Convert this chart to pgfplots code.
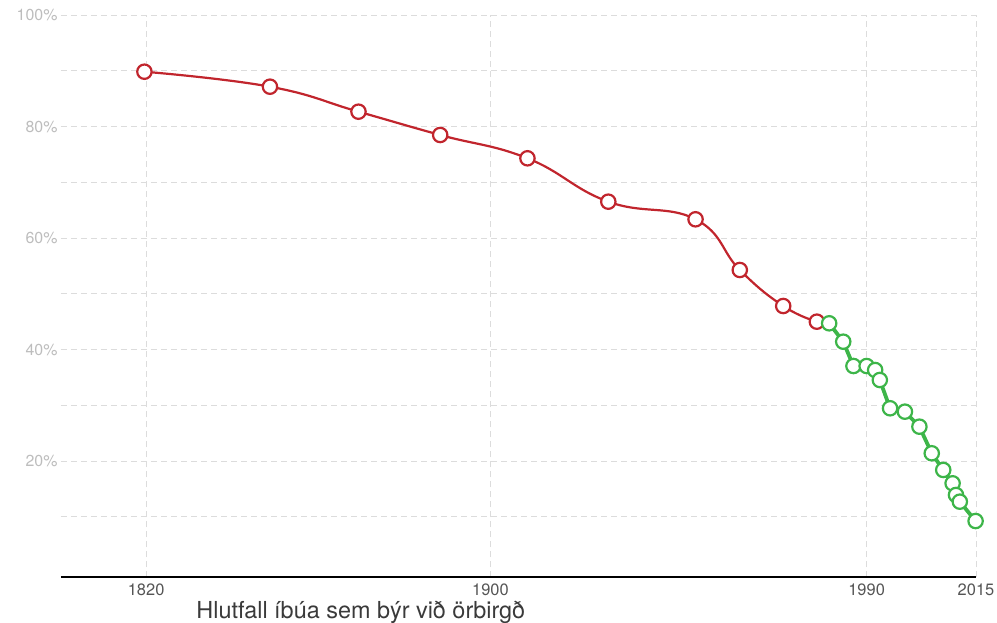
\documentclass[border=0pt]{standalone}
\usepackage{pgfplots}
\pgfplotsset{compat=1.18}
\usepackage{fontspec}
\setmainfont{TeX Gyre Heros}
\definecolor{owidred}{HTML}{C1252D}
\definecolor{owidgreen}{HTML}{3DB549}
\definecolor{gridgray}{HTML}{DCDCDC}
\definecolor{ylab}{HTML}{BDBDBD}
\definecolor{xlab}{HTML}{555555}
\definecolor{titlecol}{HTML}{3A3A3A}
\pgfplotstableread{
year value
1819.6 89.83
1849.1 87.14
1869.9 82.66
1889.1 78.48
1909.6 74.30
1928.6 66.52
1949.1 63.36
1959.5 54.27
1969.7 47.81
1977.6 45.00
}\redtable
\pgfplotstableread{
year value
1980.5 44.71
1983.8 41.41
1986.2 37.05
1989.3 37.05
1991.3 36.33
1992.4 34.54
1994.8 29.47
1998.3 28.86
2001.7 26.17
2004.6 21.40
2007.3 18.41
2009.5 16.01
2010.3 13.92
2011.2 12.72
2014.9 9.25
}\greentable
\begin{document}
\begin{tikzpicture}
\begin{axis}[
  scale only axis, width=915bp, height=562bp,
  xmin=1800, xmax=2015, ymin=-0.79, ymax=100,
  clip=false,
  axis x line=bottom, axis y line=left,
  y axis line style={draw=none},
  x axis line style={line width=2.7bp, black, -},
  xtick={1820,1900.9,1989.3,2015},
  xticklabels={1820,1900,1990,2015},
  ytick={20,40,60,80,100},
  minor ytick={10,30,50,70,90},
  xmajorgrids, ymajorgrids, yminorgrids,
  grid style={gridgray, dash pattern=on 6bp off 4bp, line width=0.9bp},
  minor grid style={gridgray, dash pattern=on 6bp off 4bp, line width=0.9bp},
  major tick length=0, minor tick length=0,
  /pgf/number format/assume math mode=true,
  yticklabel={\pgfmathprintnumber{\tick}\%},
  yticklabel style={font=\fontsize{16}{16}\selectfont, text=ylab},
  xticklabel style={font=\fontsize{16.5}{16.5}\selectfont, text=xlab, yshift=-3bp},
]
\addplot[owidred, line width=2.2bp, smooth, tension=0.75, mark=*, mark size=7.2bp,
  mark options={fill=white, draw=owidred, line width=2.2bp}]
  table[x=year, y=value] {\redtable};
\addplot[owidgreen, line width=3.8bp, mark=*, mark size=7.2bp,
  mark options={fill=white, draw=owidgreen, line width=2.2bp}]
  table[x=year, y=value] {\greentable};
\node[anchor=base, font=\fontsize{23.5}{23.5}\selectfont, text=titlecol]
  at (rel axis cs:0.3277,-0.07295) {Hlutfall íbúa sem býr við örbirgð};
\coordinate (bbl) at (rel axis cs:-0.06667,-0.08185);
\coordinate (btr) at (rel axis cs:1.02295,1.02669);
\end{axis}
\pgfresetboundingbox
\path[use as bounding box] (bbl) rectangle (btr);
\end{tikzpicture}
\end{document}
